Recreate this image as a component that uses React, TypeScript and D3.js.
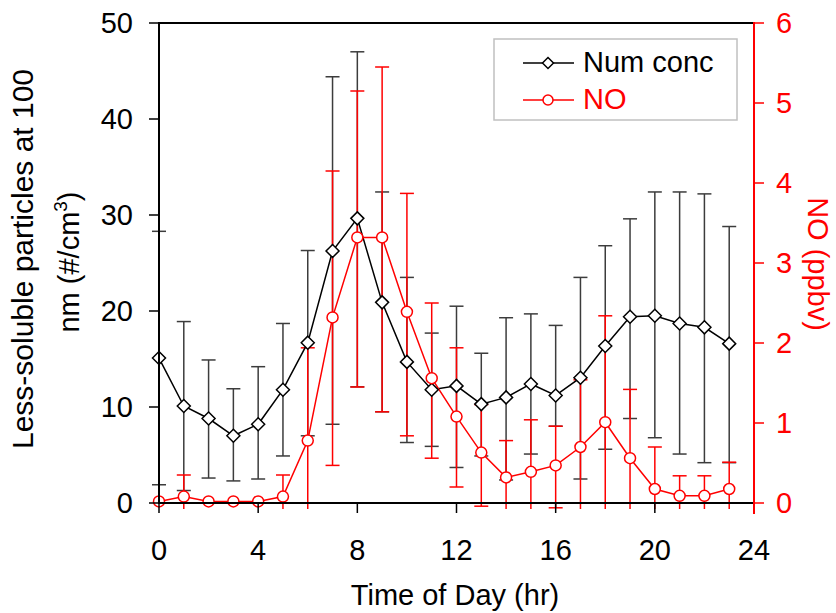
import React from "react";
import * as d3 from "d3";

// hour of day
const hours = [0, 1, 2, 3, 4, 5, 6, 7, 8, 9, 10, 11, 12, 13, 14, 15, 16, 17, 18, 19, 20, 21, 22, 23];

// less-soluble particle number conc (#/cm3), with error bar ends
const numConc = [15.1, 10.1, 8.8, 7.0, 8.2, 11.8, 16.7, 26.25, 29.65, 20.9, 14.7, 11.8, 12.2, 10.3, 11.0, 12.4, 11.2, 13.05, 16.35, 19.4, 19.5, 18.7, 18.3, 16.6];
const numHi = [28.3, 18.9, 14.9, 11.9, 14.2, 18.7, 26.3, 44.4, 47.0, 32.4, 23.5, 17.7, 20.5, 15.6, 19.3, 19.7, 18.5, 23.5, 26.8, 29.6, 32.4, 32.4, 32.2, 28.8];
const numLo = [1.9, 1.3, 2.6, 2.3, 2.5, 4.9, 7.0, 8.2, 12.1, 9.5, 6.3, 5.9, 3.7, 4.9, 2.4, 5.1, 8.0, 2.5, 5.6, 8.8, 6.8, 5.1, 4.2, 4.2];

// NO (ppbv), with error bar ends (null = no bar)
const noVal = [0.02, 0.08, 0.02, 0.02, 0.02, 0.08, 0.78, 2.32, 3.32, 3.32, 2.39, 1.56, 1.08, 0.63, 0.32, 0.39, 0.47, 0.7, 1.01, 0.56, 0.175, 0.09, 0.09, 0.175];
const noHi = [null, 0.35, null, null, null, 0.35, 1.94, 4.15, 5.15, 5.45, 3.87, 2.5, 1.94, 1.23, 0.78, 1.04, 0.96, 1.54, 2.34, 1.42, 0.7, 0.34, 0.34, 0.51];
const noLo = [null, -1, null, null, null, -1, -1, 0.47, 1.45, 1.14, 0.84, 0.56, 0.2, -0.04, -1, -1, -0.06, -1, -1, -1, -1, -1, -1, -1];

const xTicks = [0, 4, 8, 12, 16, 20, 24];
const yLeftTicks = [0, 10, 20, 30, 40, 50];
const yRightTicks = [0, 1, 2, 3, 4, 5, 6];

const W = 836;
const H = 613;
const L = 159, R = 754, T = 23, B = 503;
const FONT = "Liberation Sans, Arial, sans-serif";
const FS = 29;
const RED = "#ff0000";
const ERR = "#3c3c3c";

export default function App() {
  const x = d3.scaleLinear().domain([0, 24]).range([L, R]);
  const yL = d3.scaleLinear().domain([0, 50]).range([B, T]);
  const yR = d3.scaleLinear().domain([0, 6]).range([B, T]);
  const cap = 7;

  const numLine = d3.line<number>().x((_, i) => x(hours[i])).y((d) => yL(d))(numConc) || "";
  const noLine = d3.line<number>().x((_, i) => x(hours[i])).y((d) => yR(d))(noVal) || "";

  const diamond = (cx: number, cy: number, s: number) =>
    `M${cx},${cy - s}L${cx + s},${cy}L${cx},${cy + s}L${cx - s},${cy}Z`;

  return (
    <svg width={W} height={H} style={{ position: "absolute", left: 0, top: 0, background: "white" }} fontFamily={FONT}>
      <defs>
        <clipPath id="errclip">
          <rect x={0} y={0} width={W} height={B + 6} />
        </clipPath>
      </defs>

      {/* black error bars */}
      <g stroke={ERR} strokeWidth={1.5}>
        {hours.map((h, i) => (
          <g key={"ne" + i}>
            <line x1={x(h)} x2={x(h)} y1={yL(numHi[i])} y2={yL(numLo[i])} />
            <line x1={x(h) - cap} x2={x(h) + cap} y1={yL(numHi[i])} y2={yL(numHi[i])} />
            <line x1={x(h) - cap} x2={x(h) + cap} y1={yL(numLo[i])} y2={yL(numLo[i])} />
          </g>
        ))}
      </g>

      {/* red error bars */}
      <g stroke={RED} strokeWidth={1.5} clipPath="url(#errclip)">
        {hours.map((h, i) => {
          const hi = noHi[i];
          const lo = noLo[i];
          if (hi == null || lo == null) return null;
          return (
            <g key={"re" + i}>
              <line x1={x(h)} x2={x(h)} y1={yR(hi)} y2={yR(lo)} />
              <line x1={x(h) - cap} x2={x(h) + cap} y1={yR(hi)} y2={yR(hi)} />
              <line x1={x(h) - cap} x2={x(h) + cap} y1={yR(lo)} y2={yR(lo)} />
            </g>
          );
        })}
      </g>

      <path d={numLine} fill="none" stroke="#000" strokeWidth={1.5} />
      <path d={noLine} fill="none" stroke={RED} strokeWidth={1.5} />

      {hours.map((h, i) => (
        <path key={"nm" + i} d={diamond(x(h), yL(numConc[i]), 6.5)} fill="white" stroke="#000" strokeWidth={1.5} />
      ))}
      {hours.map((h, i) => (
        <circle key={"rm" + i} cx={x(h)} cy={yR(noVal[i])} r={5.5} fill="white" stroke={RED} strokeWidth={1.5} />
      ))}

      {/* frame and axes */}
      <line x1={L} x2={R} y1={T} y2={T} stroke="#000" strokeWidth={2} />
      <line x1={L} x2={R} y1={B} y2={B} stroke="#000" strokeWidth={2} />
      <line x1={L} x2={L} y1={T - 1} y2={B + 1} stroke="#000" strokeWidth={2} />
      <line x1={R} x2={R} y1={T - 1} y2={B + 11} stroke={RED} strokeWidth={2} />

      {xTicks.map((t) => (
        <g key={"xt" + t}>
          <line x1={x(t)} x2={x(t)} y1={B} y2={B + 10} stroke={t === 24 ? RED : "#000"} strokeWidth={1.5} />
          <text x={x(t)} y={560} fontSize={FS} textAnchor="middle" fill="#000">{t}</text>
        </g>
      ))}
      {yLeftTicks.map((t) => (
        <g key={"yl" + t}>
          <line x1={L - 10} x2={L} y1={yL(t)} y2={yL(t)} stroke="#000" strokeWidth={1.5} />
          <text x={133} y={yL(t) + 10.4} fontSize={FS} textAnchor="end" fill="#000">{t}</text>
        </g>
      ))}
      {yRightTicks.map((t) => (
        <g key={"yr" + t}>
          <line x1={R} x2={R + 10} y1={yR(t)} y2={yR(t)} stroke={RED} strokeWidth={1.5} />
          <text x={776} y={yR(t) + 10.4} fontSize={FS} textAnchor="start" fill={RED}>{t}</text>
        </g>
      ))}

      {/* axis titles */}
      <text x={455} y={605} fontSize={FS} textAnchor="middle" fill="#000">Time of Day (hr)</text>
      <g transform="translate(33,259) rotate(-90)">
        <text x={0} y={0} fontSize={FS} textAnchor="middle" fill="#000" textLength={380} lengthAdjust="spacingAndGlyphs">
          Less-soluble particles at 100
        </text>
      </g>
      <g transform="translate(79,262) rotate(-90)">
        <text x={0} y={0} fontSize={FS} textAnchor="middle" fill="#000">
          nm (#/cm<tspan dy={-12} fontSize={19}>3</tspan><tspan dy={12}>)</tspan>
        </text>
      </g>
      <g transform="translate(808,264) rotate(90)">
        <text x={0} y={0} fontSize={FS} textAnchor="middle" fill={RED}>NO (ppbv)</text>
      </g>

      {/* legend */}
      <rect x={494} y={39} width={243} height={81} fill="white" stroke="#c0c0c0" strokeWidth={1.5} />
      <line x1={523} x2={574} y1={63} y2={63} stroke="#000" strokeWidth={1.5} />
      <path d={diamond(548, 63, 5.5)} fill="white" stroke="#000" strokeWidth={1.5} />
      <text x={583} y={72} fontSize={FS} fill="#000">Num conc</text>
      <line x1={523} x2={574} y1={100} y2={100} stroke={RED} strokeWidth={1.5} />
      <circle cx={548} cy={100} r={5} fill="white" stroke={RED} strokeWidth={1.5} />
      <text x={583} y={109} fontSize={FS} fill={RED}>NO</text>
    </svg>
  );
}
